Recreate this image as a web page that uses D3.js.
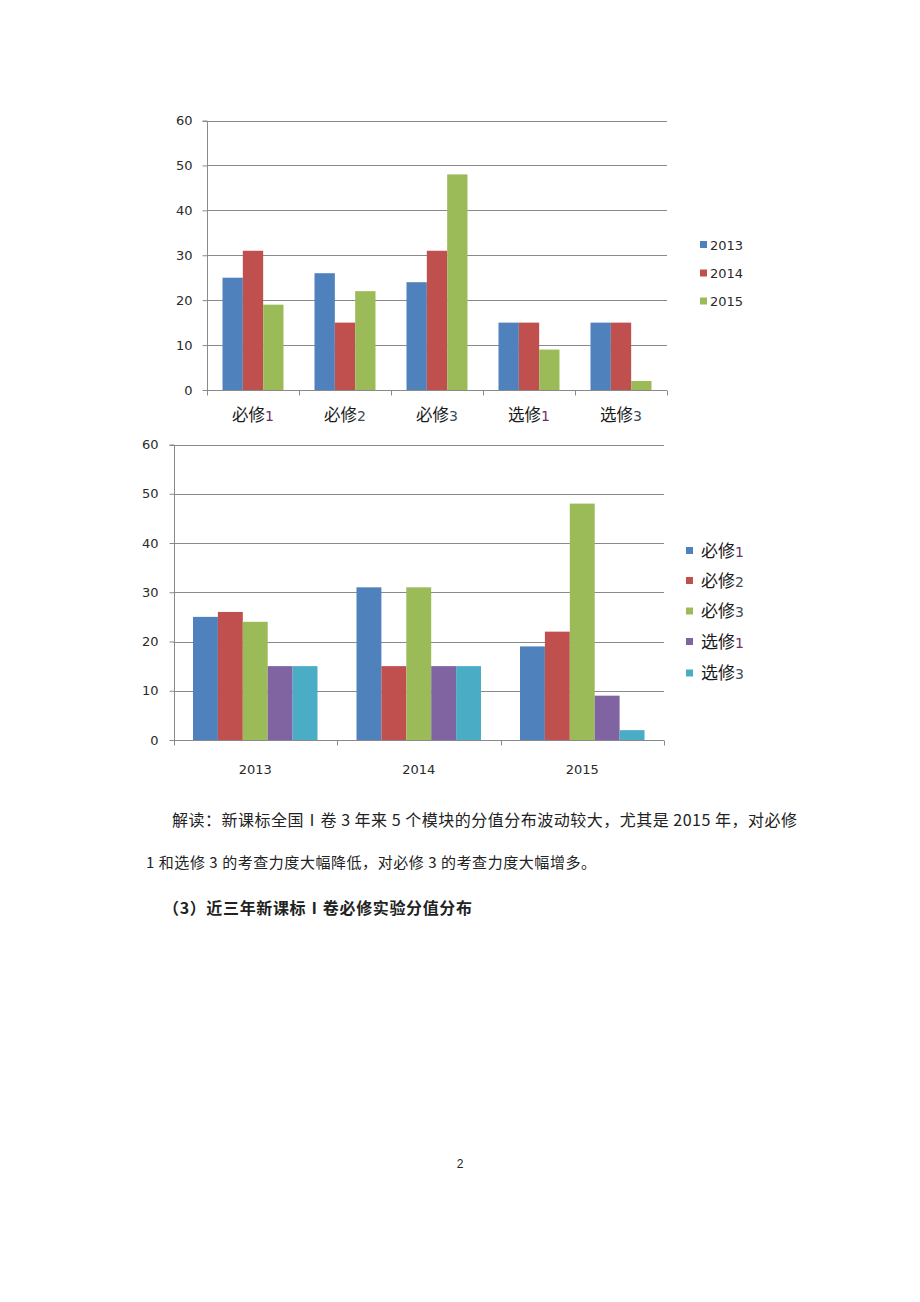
<!DOCTYPE html>
<html>
<head>
<meta charset="utf-8">
<script src="https://cdn.jsdelivr.net/npm/d3@7"></script>
<style>
  html, body { margin: 0; padding: 0; background: #fff; }
  svg { display: block; }
</style>
</head>
<body>
<svg id="page" width="920" height="1302"></svg>
<script>
// ---- data ----
const modules = ["必修1", "必修2", "必修3", "选修1", "选修3"];
const years = ["2013", "2014", "2015"];
const v2013 = [25, 26, 24, 15, 15];
const v2014 = [31, 15, 31, 15, 15];
const v2015 = [19, 22, 48, 9, 2];
const yTicks = [0, 10, 20, 30, 40, 50, 60];
const yearColors = ["#4F81BD", "#C0504D", "#9BBB59"];
const moduleColors = ["#4F81BD", "#C0504D", "#9BBB59", "#8064A2", "#4BACC6"];
const bodyLine1 = "解读：新课标全国Ⅰ卷 3 年来 5 个模块的分值分布波动较大，尤其是 2015 年，对必修";
const bodyLine2 = "1 和选修 3 的考查力度大幅降低，对必修 3 的考查力度大幅增多。";
const heading = "（3）近三年新课标Ⅰ卷必修实验分值分布";
const pageNum = "2";

const byYear = [v2013, v2014, v2015];
const svg = d3.select("#page");
const CJK = "'Noto Sans CJK SC', 'Noto Sans', sans-serif";
const NUM = "'DejaVu Sans', Verdana, sans-serif";
const gridColor = "#8a8a8a";
const digitColor = { "1": "#6e2f68", "2": "#3c4a55", "3": "#3c4a5c" };

function labelWithDigit(sel, txt, cjkSize, numSize) {
  const m = txt.match(/^(\D+)(\d+)$/);
  if (m) {
    sel.append("tspan").attr("font-family", CJK).attr("font-size", cjkSize).attr("fill", "#1a1a1a").text(m[1]);
    sel.append("tspan").attr("font-family", NUM).attr("font-size", numSize).attr("fill", digitColor[m[2]] || "#333").text(m[2]);
  } else {
    sel.text(txt);
  }
}

function drawChart(cfg) {
  const g = svg.append("g");
  const x0 = d3.scaleBand().domain(cfg.groups).range([cfg.left, cfg.right]).paddingInner(0).paddingOuter(0);
  const y = d3.scaleLinear().domain([0, 60]).range([cfg.bottom, cfg.top]);
  const inner = x0.bandwidth() - cfg.gap;
  const x1 = d3.scaleBand().domain(cfg.series.map((s, i) => i)).range([cfg.gap / 2, cfg.gap / 2 + inner]).padding(0);

  // gridlines
  g.append("g").selectAll("line").data(yTicks.filter(t => t > 0)).join("line")
    .attr("x1", cfg.left).attr("x2", cfg.right)
    .attr("y1", d => Math.round(y(d)) + 0.5).attr("y2", d => Math.round(y(d)) + 0.5)
    .attr("stroke", gridColor).attr("stroke-width", 1);

  // bars
  cfg.groups.forEach((grp, gi) => {
    g.append("g").selectAll("rect").data(cfg.series).join("rect")
      .attr("x", (s, si) => x0(grp) + x1(si))
      .attr("width", x1.bandwidth())
      .attr("y", (s) => y(cfg.value(gi, s)))
      .attr("height", (s) => cfg.bottom - y(cfg.value(gi, s)))
      .attr("fill", (s, si) => cfg.colors[si]);
  });

  // y axis
  const yAxis = d3.axisLeft(y).tickValues(yTicks).tickSize(5).tickPadding(cfg.yPad).tickFormat(d3.format("d"));
  const ya = g.append("g").attr("transform", `translate(${Math.round(cfg.left) + 0.5},0)`).call(yAxis);
  ya.select(".domain").attr("stroke", gridColor).attr("d", `M-5,${Math.round(y(60)) + 0.5}H0V${cfg.bottom + 0.5}`);
  ya.selectAll(".tick line").attr("stroke", gridColor);
  ya.selectAll(".tick text").attr("font-family", NUM).attr("font-size", cfg.yFont).attr("fill", "#2a2a2a");

  // x axis
  const xa = g.append("g").attr("transform", `translate(0,${cfg.bottom + 0.5})`);
  xa.append("line").attr("x1", cfg.left).attr("x2", cfg.right).attr("stroke", gridColor);
  const bounds = cfg.groups.map(gp => x0(gp)).concat([cfg.right]);
  xa.selectAll("line.tk").data(bounds).join("line").attr("class", "tk")
    .attr("x1", d => Math.round(d) + 0.5).attr("x2", d => Math.round(d) + 0.5)
    .attr("y1", 0).attr("y2", 5).attr("stroke", gridColor);
  cfg.groups.forEach(gp => {
    const t = xa.append("text").attr("x", x0(gp) + x0.bandwidth() / 2).attr("y", cfg.xLabelDy)
      .attr("text-anchor", "middle").attr("font-family", NUM).attr("font-size", cfg.xFont).attr("fill", "#2a2a2a");
    labelWithDigit(t, gp, cfg.xCjk, cfg.xNum);
  });

  // legend
  const lg = g.append("g");
  cfg.legendLabels.forEach((lab, i) => {
    const cy = cfg.legendY[i];
    lg.append("rect").attr("x", cfg.legendX).attr("y", cy - cfg.sq / 2).attr("width", cfg.sq).attr("height", cfg.sq).attr("fill", cfg.colors[i]);
    const t = lg.append("text").attr("x", cfg.legendX + cfg.sq + cfg.legendGap).attr("y", cy + cfg.legendDy)
      .attr("font-family", NUM).attr("font-size", cfg.legendFont).attr("fill", "#2a2a2a");
    labelWithDigit(t, lab, cfg.legendCjk, cfg.legendNum);
  });
}

// chart 1: groups = modules, series = years
drawChart({
  groups: modules, series: years, colors: yearColors,
  value: (gi, s) => byYear[years.indexOf(s)][gi],
  left: 207, right: 667, top: 120.5, bottom: 390, gap: 31,
  yPad: 10, yFont: 13, xFont: 13, xCjk: 16.5, xNum: 14, xLabelDy: 30,
  legendLabels: years, legendX: 700, legendY: [244.5, 273, 301], sq: 7, legendGap: 3,
  legendDy: 5, legendFont: 13, legendCjk: 15, legendNum: 13
});

// chart 2: groups = years, series = modules
drawChart({
  groups: years, series: modules, colors: moduleColors,
  value: (gi, s) => byYear[gi][modules.indexOf(s)],
  left: 173.5, right: 664, top: 444.5, bottom: 740, gap: 39,
  yPad: 11, yFont: 13, xFont: 13, xCjk: 16, xNum: 13, xLabelDy: 33,
  legendLabels: modules, legendX: 686, legendY: [550.5, 580.5, 611, 641.5, 673], sq: 7, legendGap: 8,
  legendDy: 6, legendFont: 13, legendCjk: 17, legendNum: 14
});

// body text
svg.append("text").attr("x", 172).attr("y", 826).attr("font-family", CJK).attr("font-size", 16).attr("fill", "#222")
  .attr("textLength", 625).attr("lengthAdjust", "spacing").text(bodyLine1);
svg.append("text").attr("x", 146).attr("y", 868).attr("font-family", CJK).attr("font-size", 15).attr("fill", "#222")
  .attr("textLength", 450).attr("lengthAdjust", "spacing").text(bodyLine2);
svg.append("text").attr("x", 163).attr("y", 914).attr("font-family", CJK).attr("font-size", 16).attr("font-weight", "bold").attr("fill", "#222")
  .attr("textLength", 309).attr("lengthAdjust", "spacing").text(heading);
svg.append("text").attr("x", 460).attr("y", 1168).attr("text-anchor", "middle").attr("font-family", "'Liberation Sans', Arial, sans-serif")
  .attr("font-size", 12).attr("fill", "#222").text(pageNum);
</script>
</body>
</html>
